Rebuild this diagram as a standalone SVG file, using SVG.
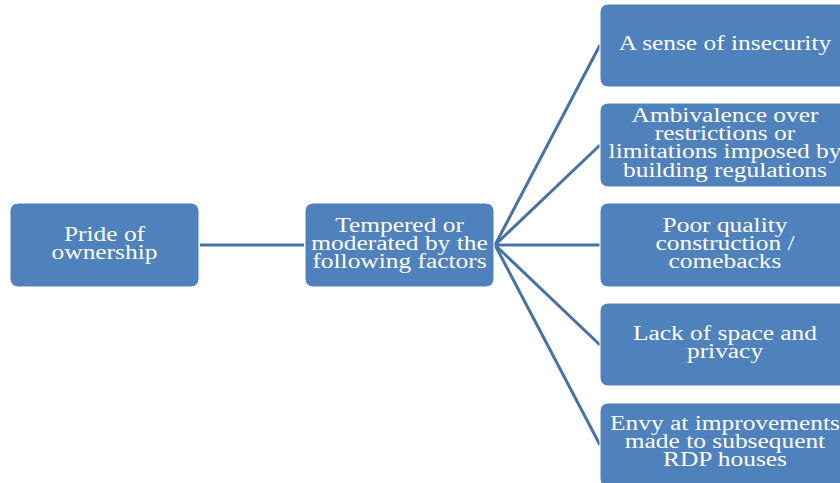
<svg xmlns="http://www.w3.org/2000/svg" width="840" height="483" viewBox="0 0 840 483">
<style>
.box{fill:#4f81bd;stroke:#ffffff;stroke-width:1}
.t{font-family:"Liberation Serif","Times New Roman",serif;font-size:20px;fill:#ffffff;text-anchor:middle}
.c{stroke:#4672a8;stroke-width:3;fill:none}
</style>
<rect width="840" height="483" fill="#ffffff"/>
<g id="connectors">
<line class="c" x1="200" y1="245" x2="304" y2="245"/>
<line class="c" x1="495" y1="245" x2="600" y2="45"/>
<line class="c" x1="495" y1="245" x2="600" y2="145"/>
<line class="c" x1="495" y1="245" x2="600" y2="245"/>
<line class="c" x1="495" y1="245" x2="600" y2="345"/>
<line class="c" x1="495" y1="245" x2="600" y2="445"/>
</g>
<g id="pride">
<rect class="box" x="10" y="203" width="189" height="84" rx="8"/>
<g transform="translate(104.5,0) scale(1.27,1)">
<text class="t" x="0" y="241">Pride of</text>
<text class="t" x="0" y="259">ownership</text>
</g>
</g>
<g id="tempered">
<rect class="box" x="305" y="203" width="189" height="84" rx="8"/>
<g transform="translate(399.5,0) scale(1.27,1)">
<text class="t" x="0" y="232">Tempered or</text>
<text class="t" x="0" y="250">moderated by the</text>
<text class="t" x="0" y="268">following factors</text>
</g>
</g>
<g id="insecurity">
<rect class="box" x="600" y="4" width="250" height="83" rx="8"/>
<g transform="translate(725,0) scale(1.27,1)">
<text class="t" x="0" y="50">A sense of insecurity</text>
</g>
</g>
<g id="ambivalence">
<rect class="box" x="600" y="103" width="250" height="84" rx="8"/>
<g transform="translate(725,0) scale(1.27,1)">
<text class="t" x="0" y="122">Ambivalence over</text>
<text class="t" x="0" y="140">restrictions or</text>
<text class="t" x="0" y="158">limitations imposed by</text>
<text class="t" x="0" y="177">building regulations</text>
</g>
</g>
<g id="quality">
<rect class="box" x="600" y="203" width="250" height="84" rx="8"/>
<g transform="translate(725,0) scale(1.27,1)">
<text class="t" x="0" y="232">Poor quality</text>
<text class="t" x="0" y="250">construction /</text>
<text class="t" x="0" y="268">comebacks</text>
</g>
</g>
<g id="space">
<rect class="box" x="600" y="303" width="250" height="83" rx="8"/>
<g transform="translate(725,0) scale(1.27,1)">
<text class="t" x="0" y="340">Lack of space and</text>
<text class="t" x="0" y="358">privacy</text>
</g>
</g>
<g id="envy">
<rect class="box" x="600" y="403" width="250" height="84" rx="8"/>
<g transform="translate(725,0) scale(1.27,1)">
<text class="t" x="0" y="430">Envy at improvements</text>
<text class="t" x="0" y="448">made to subsequent</text>
<text class="t" x="0" y="466">RDP houses</text>
</g>
</g>
</svg>
